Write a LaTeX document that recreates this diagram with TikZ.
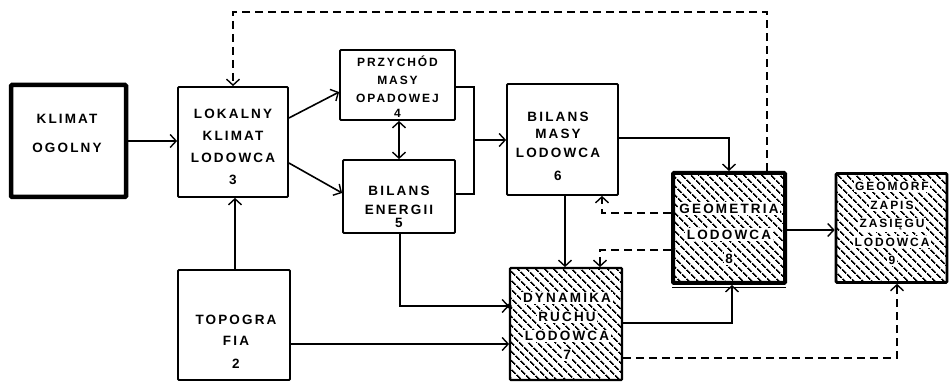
\documentclass[tikz,border=0pt]{standalone}
\usepackage{fontspec}
\newfontfamily\lab[LetterSpace=16]{Liberation Sans Bold}
\usetikzlibrary{arrows.meta,patterns.meta}
\newcommand\wb[1]{{\setlength\fboxsep{1.6pt}\colorbox{white}{#1}}}
\begin{document}
\begin{tikzpicture}[x=1pt,y=-1pt,
  box/.style={draw,line width=1.8pt,inner sep=0pt,rounded corners=1pt},
  thickbox/.style={box,line width=4.5pt},
  hatch/.style={pattern={Lines[angle=-45,distance=6.5pt,line width=1.8pt]}},
  txt/.style={font=\lab\fontsize{13.5}{#1}\selectfont,align=center,inner sep=0pt},
  txt/.default=20,
  arr/.style={line width=1.6pt,-{Straight Barb[length=6pt,width=13pt,line width=1.4pt]}},
  darr/.style={line width=1.6pt,{Straight Barb[length=6pt,width=13pt,line width=1.4pt]}-{Straight Barb[length=6pt,width=13pt,line width=1.4pt]}},
  dsh/.style={dash pattern=on 8pt off 5pt},
  ln/.style={line width=1.6pt}]
\useasboundingbox (0,0) rectangle (951,382);
\fill[white] (0,0) rectangle (951,382);
% boxes
\node[thickbox,minimum width=115pt,minimum height=112pt] (k1) at (68.5,141) {};
\node[box,minimum width=110pt,minimum height=110pt] (k3) at (233,142) {};
\node[box,minimum width=115pt,minimum height=70pt] (k4) at (397.5,85) {};
\node[box,minimum width=112pt,minimum height=73pt] (k5) at (399,196.5) {};
\node[box,minimum width=111pt,minimum height=111pt] (k6) at (562.5,139.5) {};
\node[box,minimum width=112pt,minimum height=110pt] (k2) at (234,325) {};
\node[box,line width=2.4pt,hatch,minimum width=112pt,minimum height=112pt] (k7) at (566,324) {};
\node[thickbox,line width=4pt,hatch,minimum width=112pt,minimum height=110pt] (k8) at (729,228) {};
\node[box,line width=2.6pt,hatch,minimum width=111pt,minimum height=109pt] (k9) at (891.5,228) {};
\coordinate (u1) at (672,288);
\coordinate (u2) at (786,288);
\draw[line width=1pt] (u1) -- (u2);
% texts
\node[txt] (t1) at (67,133.5) {KLIMAT\\[9pt]OGOLNY};
\node[txt=22] (t3) at (233,146.5) {LOKALNY\\KLIMAT\\LODOWCA\\3};
\node[txt=18,font=\lab\fontsize{12}{18}\selectfont] (t4) at (397.5,86.5) {PRZYCHÓD\\MASY\\OPADOWEJ\\[-3pt]4};
\node[txt=19] (t5) at (399,207) {BILANS\\ENERGII\\[-6pt]5};
\node[txt=19.5] (t6) at (558,146.5) {BILANS\\[-3pt]MASY\\LODOWCA\\[3pt]6};
\node[txt=21] (t2) at (236,341.5) {TOPOGRA\\FIA\\[2pt]2};
\node[txt=19] (t7) at (567,326.5) {\wb{DYNAMIKA}\\\wb{RUCHU}\\\wb{LODOWCA}\\\wb{7}};
\node[txt=26] (t8) at (729,233.5) {\wb{GEOMETRIA}\\\wb{LODOWCA}\\[-2pt]\wb{8}};
\node[txt=18.5,font=\lab\fontsize{12}{18.5}\selectfont] (t9) at (892,223.5) {\wb{GEOMORF}\\\wb{ZAPIS}\\\wb{ZASIĘGU}\\\wb{LODOWCA}\\\wb{9}};
% connectors
\coordinate (b1) at (474,87);
\coordinate (b2) at (474,194);
\coordinate (bm) at (474,140);
\coordinate (tr) at (767,12);
\draw[arr] (k1.east) -- (k1.east -| k3.west);
\draw[arr] (k3.east |- 0,118) -- (k4.west |- 0,92);
\draw[arr] (k3.east |- 0,163) -- (k5.west |- 0,193);
\draw[darr] (k4.south -| 399,0) -- (k5.north -| 399,0);
\draw[ln] (k4.east |- b1) -- (b1) -- (b2) -- (k5.east |- b2);
\draw[arr] (bm) -- (k6.west |- bm);
\draw[arr] (k6.east |- 0,138) -| (k8.north);
\draw[arr,dsh] (k8.north -| tr) -- (tr) -| (k3.north);
\draw[arr] (k8.east |- 0,230) -- (k9.west |- 0,230);
\draw[arr,dsh] (k8.west |- 0,213) -| (k6.south -| 602,0);
\draw[arr,dsh] (k8.west |- 0,250) -| (k7.north -| 600,0);
\draw[arr] (k6.south -| 565,0) -- (k7.north -| 565,0);
\draw[arr] (k5.south -| 400,0) |- (k7.west |- 0,306);
\fill (k7.west |- 0,306) circle (2.5pt);
\draw[arr] (k2.east |- 0,344) -- (k7.west |- 0,344);
\draw[arr] (k2.north -| 235,0) -- (k3.south -| 235,0);
\draw[arr] (k7.east |- 0,323) -| (k8.south -| 732,0);
\draw[arr,dsh] (k7.east |- 0,358) -| (k9.south -| 897,0);
\end{tikzpicture}
\end{document}
